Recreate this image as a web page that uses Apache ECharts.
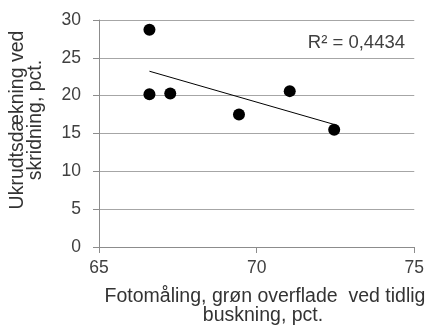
<!DOCTYPE html>
<html>
<head>
<meta charset="utf-8">
<script src="https://cdn.jsdelivr.net/npm/echarts@6/dist/echarts.min.js"></script>
<style>html,body{margin:0;padding:0;background:#fff}#c{width:427px;height:327px}</style>
</head>
<body>
<div id="c"></div>
<script>
const xValues = [66.6, 66.6, 67.26, 69.44, 71.05, 72.46];
const yValues = [28.7, 20.2, 20.3, 17.5, 20.6, 15.5];
const xTitle = ['Fotomåling, grøn overflade  ved tidlig', 'buskning, pct.'];
const yTitle = ['Ukrudtsdækning ved', 'skridning, pct.'];
const r2Label = 'R² = 0,4434';

const points = xValues.map((x, i) => [x, yValues[i]]);
// linear least-squares trendline from the data
const n = xValues.length;
const mx = xValues.reduce((a, b) => a + b, 0) / n;
const my = yValues.reduce((a, b) => a + b, 0) / n;
let sxy = 0, sxx = 0;
for (let i = 0; i < n; i++) { sxy += (xValues[i] - mx) * (yValues[i] - my); sxx += (xValues[i] - mx) ** 2; }
const slope = sxy / sxx, icpt = my - slope * mx;
const xMin = Math.min(...xValues), xMax = Math.max(...xValues);
const trend = [[xMin, icpt + slope * xMin], [xMax, icpt + slope * xMax]];

const font = 'Liberation Sans, Arial, sans-serif';
const chart = echarts.init(document.getElementById('c'));
chart.setOption({
  animation: false,
  grid: { left: 99, right: 8, top: 20, bottom: 80 },
  xAxis: {
    type: 'value', min: 65, max: 75, interval: 5,
    axisLine: { show: true, lineStyle: { color: '#8c8c8c' } },
    axisTick: { show: true, length: 6, lineStyle: { color: '#8c8c8c' } },
    splitLine: { show: false },
    axisLabel: { color: '#404040', fontSize: 17.5, fontFamily: font, margin: 12 }
  },
  yAxis: {
    type: 'value', min: 0, max: 30, interval: 5,
    axisLine: { show: true, lineStyle: { color: '#8c8c8c' } },
    axisTick: { show: true, length: 6, lineStyle: { color: '#8c8c8c' } },
    splitLine: { show: true, lineStyle: { color: '#a6a6a6' } },
    axisLabel: { color: '#404040', fontSize: 17.5, fontFamily: font, margin: 18 }
  },
  series: [
    { type: 'scatter', data: points, symbolSize: 12, itemStyle: { color: '#000', opacity: 1 }, z: 3 },
    { type: 'line', data: trend, symbol: 'none', lineStyle: { color: '#000', width: 1 }, z: 2 }
  ],
  graphic: [
    { type: 'text', x: 405, y: 43, style: { text: r2Label, fill: '#404040', font: '18.5px ' + font, textAlign: 'right', textVerticalAlign: 'middle' } },
    { type: 'text', x: 265, y: 297, style: { text: xTitle[0], fill: '#333', font: '19.5px ' + font, textAlign: 'center', textVerticalAlign: 'middle' } },
    { type: 'text', x: 263, y: 316, style: { text: xTitle[1], fill: '#333', font: '19.5px ' + font, textAlign: 'center', textVerticalAlign: 'middle' } },
    { type: 'text', x: 18, y: 120, rotation: Math.PI / 2, style: { text: yTitle[0], fill: '#333', font: '19.5px ' + font, textAlign: 'center', textVerticalAlign: 'middle' } },
    { type: 'text', x: 36, y: 120, rotation: Math.PI / 2, style: { text: yTitle[1], fill: '#333', font: '19.5px ' + font, textAlign: 'center', textVerticalAlign: 'middle' } }
  ]
});
</script>
</body>
</html>
